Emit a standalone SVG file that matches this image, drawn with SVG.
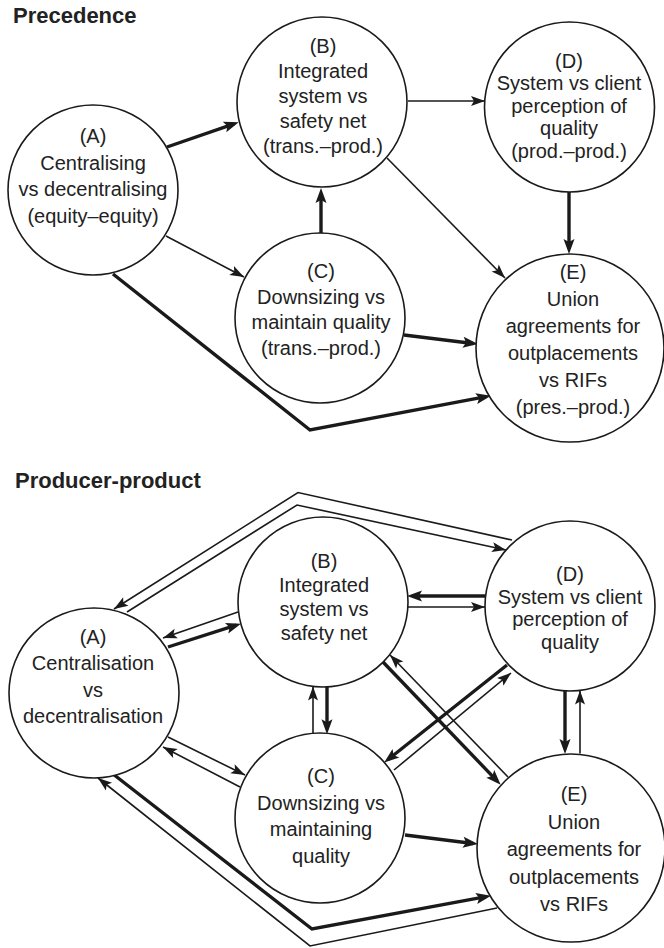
<svg xmlns="http://www.w3.org/2000/svg" width="664" height="948" viewBox="0 0 664 948">
<defs>
<marker id="ah" markerUnits="userSpaceOnUse" markerWidth="15" markerHeight="10" refX="14" refY="5" orient="auto" overflow="visible">
<path d="M0,0 L14,5 L0,10 L3,5 z" fill="#1a1a1a"/>
</marker>
<marker id="ahk" markerUnits="userSpaceOnUse" markerWidth="16" markerHeight="11" refX="10" refY="5.5" orient="auto" overflow="visible">
<path d="M0,0 L15,5.5 L0,11 L3,5.5 z" fill="#1a1a1a"/>
</marker>
<style>
.n{fill:#fff;stroke:#1a1a1a;stroke-width:1.6}
.t{font-family:"Liberation Sans",Arial,Helvetica,sans-serif;font-size:20px;fill:#222;text-anchor:middle}
.h{font-family:"Liberation Sans",Arial,Helvetica,sans-serif;font-size:22px;font-weight:bold;fill:#222}
.e{fill:none;stroke:#1a1a1a;stroke-width:1.6;stroke-linejoin:miter}
.k{fill:none;stroke:#1a1a1a;stroke-width:3.4;stroke-linejoin:miter}
.a{marker-end:url(#ah)}
.ak{marker-end:url(#ahk)}
</style>
</defs>
<rect width="664" height="948" fill="#fff"/>
<text class="h" x="13" y="23">Precedence</text>
<text class="h" x="15" y="488">Producer-product</text>

<g id="edges-top">
<line class="k ak" x1="167" y1="147" x2="234" y2="123.8"/>
<line class="e a" x1="166" y1="236" x2="244" y2="277"/>
<polyline class="k ak" points="113,274 310,430 486.1,396.7"/>
<line class="k ak" x1="321" y1="233" x2="321" y2="193"/>
<line class="e a" x1="408" y1="101" x2="485" y2="101"/>
<line class="e a" x1="387" y1="158" x2="505" y2="278"/>
<line class="k ak" x1="569" y1="192" x2="569" y2="249"/>
<line class="k ak" x1="404" y1="335" x2="473" y2="343.5"/>
</g>

<g id="edges-bottom">
<polyline class="e a" points="512,540 298,492.5 114,609"/>
<polyline class="e a" points="127,612 297,505 506,550"/>
<line class="e a" x1="238" y1="612" x2="163" y2="638"/>
<line class="k ak" x1="168" y1="647" x2="236.2" y2="625.2"/>
<line class="k ak" x1="485.6" y1="596" x2="412" y2="596"/>
<line class="e a" x1="408" y1="607" x2="485" y2="607"/>
<line class="e a" x1="313" y1="733.3" x2="313" y2="686.4"/>
<line class="k ak" x1="327" y1="687" x2="327" y2="729.3"/>
<line class="k ak" x1="383" y1="662" x2="497.2" y2="781.1"/>
<line class="e a" x1="508" y1="777" x2="390" y2="655"/>
<line class="k ak" x1="507" y1="665" x2="388.1" y2="759.5"/>
<line class="e a" x1="394" y1="770" x2="511" y2="673"/>
<line class="k ak" x1="565" y1="691" x2="565" y2="749"/>
<line class="e a" x1="580" y1="753.4" x2="580" y2="690.4"/>
<line class="e a" x1="168" y1="737" x2="245" y2="775"/>
<line class="e a" x1="240" y1="787" x2="163" y2="747"/>
<polyline class="k ak" points="113,774 312,929 486.1,896.7"/>
<polyline class="e a" points="497,908 310,946 98,778"/>
<line class="k ak" x1="405" y1="835" x2="473" y2="843.5"/>
</g>

<g id="pA">
<circle class="n" cx="93" cy="190" r="85"/>
<text class="t"><tspan x="93" y="143">(A)</tspan><tspan x="93" y="169.5">Centralising</tspan><tspan x="93" y="196">vs decentralising</tspan><tspan x="93" y="222.5">(equity–equity)</tspan></text>
</g>
<g id="pB">
<circle class="n" cx="322" cy="102" r="85"/>
<text class="t"><tspan x="323" y="53">(B)</tspan><tspan x="323" y="78">Integrated</tspan><tspan x="323" y="103">system vs</tspan><tspan x="323" y="128">safety net</tspan><tspan x="323" y="152.5">(trans.–prod.)</tspan></text>
</g>
<g id="pC">
<circle class="n" cx="320" cy="318" r="85"/>
<text class="t"><tspan x="321" y="278">(C)</tspan><tspan x="321" y="303.5">Downsizing vs</tspan><tspan x="321" y="329">maintain quality</tspan><tspan x="321" y="355">(trans.–prod.)</tspan></text>
</g>
<g id="pD">
<circle class="n" cx="569.5" cy="107" r="85"/>
<text class="t"><tspan x="569" y="67.5">(D)</tspan><tspan x="569" y="90">System vs client</tspan><tspan x="569" y="112.5">perception of</tspan><tspan x="569" y="135">quality</tspan><tspan x="569" y="157.5">(prod.–prod.)</tspan></text>
</g>
<g id="pE">
<circle class="n" cx="570" cy="348" r="94"/>
<text class="t"><tspan x="573" y="279">(E)</tspan><tspan x="573" y="306">Union</tspan><tspan x="573" y="333">agreements for</tspan><tspan x="573" y="360">outplacements</tspan><tspan x="573" y="387">vs RIFs</tspan><tspan x="573" y="414">(pres.–prod.)</tspan></text>
</g>

<g id="qA">
<circle class="n" cx="94" cy="693" r="85"/>
<text class="t"><tspan x="93" y="644">(A)</tspan><tspan x="93" y="670">Centralisation</tspan><tspan x="93" y="697">vs</tspan><tspan x="93" y="723">decentralisation</tspan></text>
</g>
<g id="qB">
<circle class="n" cx="323" cy="602" r="85"/>
<text class="t"><tspan x="324" y="568">(B)</tspan><tspan x="324" y="592">Integrated</tspan><tspan x="324" y="616">system vs</tspan><tspan x="324" y="640">safety net</tspan></text>
</g>
<g id="qC">
<circle class="n" cx="320" cy="818" r="85"/>
<text class="t"><tspan x="321" y="783">(C)</tspan><tspan x="321" y="809.5">Downsizing vs</tspan><tspan x="321" y="836">maintaining</tspan><tspan x="321" y="863">quality</tspan></text>
</g>
<g id="qD">
<circle class="n" cx="570" cy="606" r="85"/>
<text class="t"><tspan x="570" y="581">(D)</tspan><tspan x="570" y="603.5">System vs client</tspan><tspan x="570" y="626">perception of</tspan><tspan x="570" y="649">quality</tspan></text>
</g>
<g id="qE">
<circle class="n" cx="571" cy="848" r="94"/>
<text class="t"><tspan x="574" y="801">(E)</tspan><tspan x="574" y="828.5">Union</tspan><tspan x="574" y="856">agreements for</tspan><tspan x="574" y="883.5">outplacements</tspan><tspan x="574" y="911">vs RIFs</tspan></text>
</g>
</svg>
